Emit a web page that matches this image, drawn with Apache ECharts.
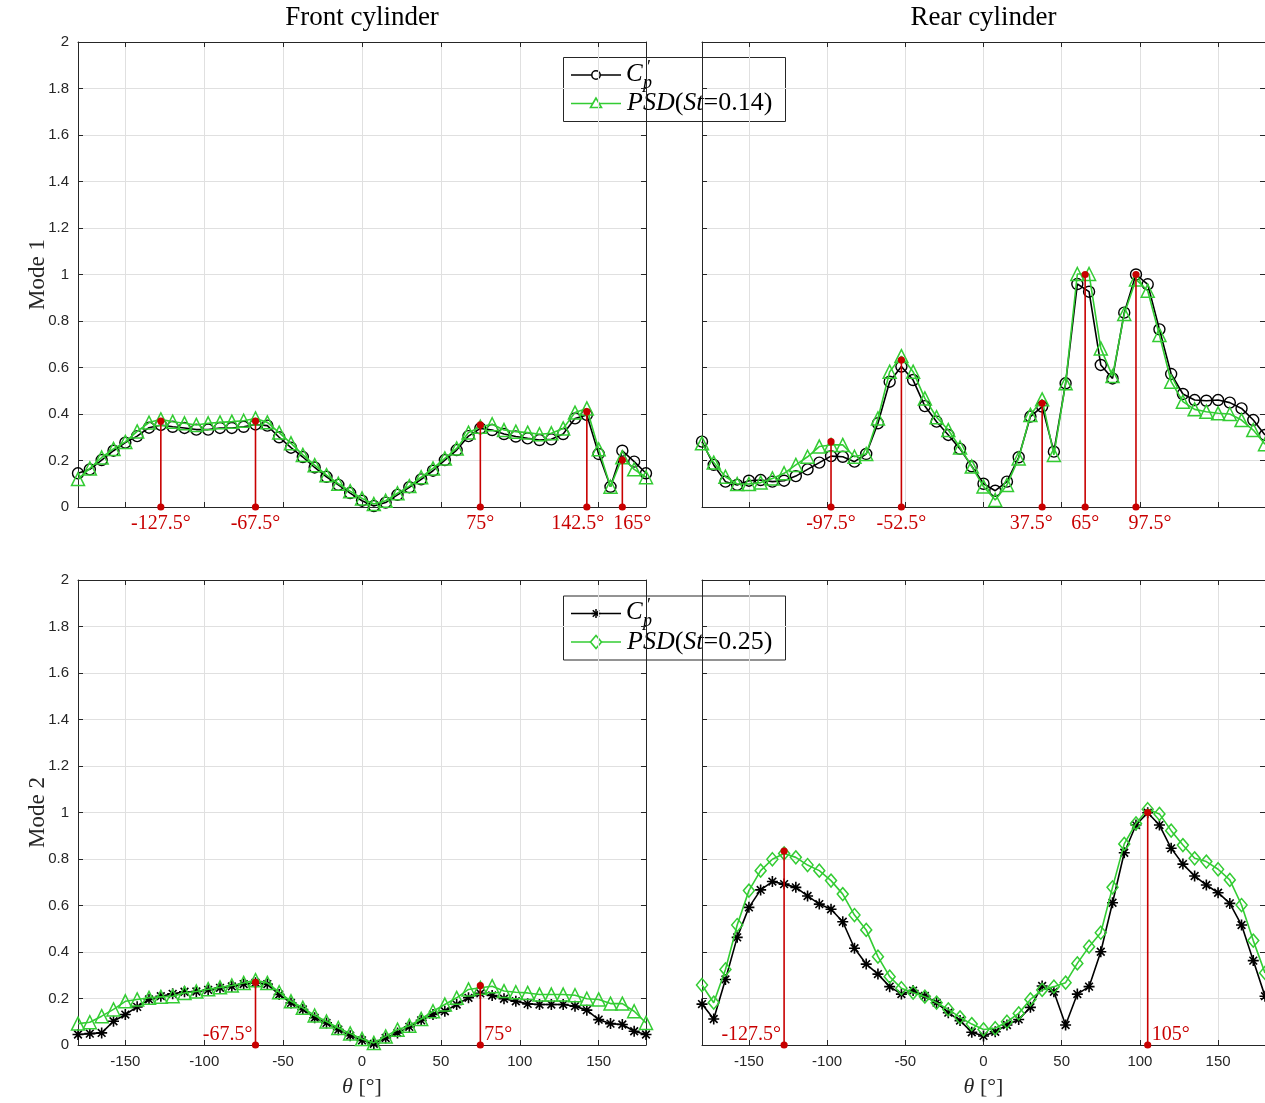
<!DOCTYPE html>
<html>
<head>
<meta charset="utf-8">
<script src="https://cdn.jsdelivr.net/npm/echarts@6/dist/echarts.min.js"></script>
<style>
  html, body { margin: 0; padding: 0; background: #ffffff; }
  #chart { width: 1265px; height: 1103px; }
</style>
</head>
<body>
<div id="chart"></div>
<script>
// Angular positions of the pressure taps (degrees)
const theta = [
  -180, -172.5, -165, -157.5, -150, -142.5, -135, -127.5, -120, -112.5, -105, -97.5,
  -90, -82.5, -75, -67.5, -60, -52.5, -45, -37.5, -30, -22.5, -15, -7.5,
  0,
  7.5, 15, 22.5, 30, 37.5, 45, 52.5, 60, 67.5, 75, 82.5, 90,
  97.5, 105, 112.5, 120, 127.5, 135, 142.5, 150, 157.5, 165, 172.5, 180
];

// Mode 1 — front cylinder
const frontMode1Cp = [
  0.145, 0.162, 0.202, 0.242, 0.277, 0.305, 0.341, 0.353, 0.345, 0.340, 0.333, 0.333,
  0.340, 0.340, 0.345, 0.355, 0.350, 0.300, 0.255, 0.215, 0.170, 0.130, 0.095, 0.060,
  0.027,
  0.004, 0.019, 0.052, 0.085, 0.119, 0.156, 0.202, 0.245, 0.305, 0.338, 0.331, 0.314,
  0.303, 0.295, 0.288, 0.291, 0.314, 0.381, 0.396, 0.228, 0.087, 0.242, 0.195, 0.145
];
const frontMode1Psd = [
  0.120, 0.166, 0.213, 0.250, 0.280, 0.325, 0.363, 0.377, 0.367, 0.360, 0.353, 0.360,
  0.364, 0.367, 0.371, 0.381, 0.364, 0.320, 0.274, 0.224, 0.180, 0.137, 0.100, 0.068,
  0.037,
  0.013, 0.027, 0.059, 0.090, 0.128, 0.166, 0.209, 0.252, 0.320, 0.345, 0.356, 0.331,
  0.324, 0.320, 0.313, 0.317, 0.338, 0.406, 0.424, 0.248, 0.087, 0.214, 0.162, 0.128
];
const frontMode1Peaks = [[-127.5, 0.37], [-67.5, 0.37], [75, 0.353], [142.5, 0.41], [165, 0.202]];

// Mode 1 — rear cylinder
const rearMode1Cp = [
  0.281, 0.181, 0.109, 0.095, 0.113, 0.116, 0.109, 0.113, 0.133, 0.162, 0.191, 0.219,
  0.216, 0.195, 0.228, 0.360, 0.539, 0.604, 0.546, 0.434, 0.367, 0.310, 0.250, 0.175,
  0.100,
  0.070, 0.109, 0.214, 0.389, 0.432, 0.238, 0.532, 0.959, 0.926, 0.611, 0.553, 0.836,
  1.000, 0.958, 0.764, 0.572, 0.486, 0.460, 0.457, 0.460, 0.449, 0.424, 0.374, 0.310
];
const rearMode1Psd = [
  0.274, 0.191, 0.130, 0.099, 0.099, 0.105, 0.123, 0.145, 0.181, 0.216, 0.260, 0.267,
  0.267, 0.216, 0.228, 0.381, 0.582, 0.649, 0.582, 0.467, 0.386, 0.331, 0.256, 0.174,
  0.088,
  0.030, 0.095, 0.209, 0.396, 0.463, 0.224, 0.532, 1.002, 1.002, 0.682, 0.563, 0.830,
  0.979, 0.930, 0.740, 0.539, 0.453, 0.420, 0.410, 0.403, 0.400, 0.374, 0.331, 0.270
];
const rearMode1Peaks = [[-97.5, 0.281], [-52.5, 0.632], [37.5, 0.446], [65, 1.0], [97.5, 1.0]];

// Mode 2 — front cylinder
const frontMode2Cp = [
  0.045, 0.049, 0.052, 0.102, 0.131, 0.164, 0.196, 0.210, 0.220, 0.229, 0.230, 0.237,
  0.246, 0.252, 0.262, 0.268, 0.262, 0.217, 0.181, 0.153, 0.117, 0.095, 0.066, 0.040,
  0.020,
  0.005, 0.030, 0.052, 0.078, 0.106, 0.131, 0.145, 0.174, 0.203, 0.222, 0.213, 0.199,
  0.188, 0.177, 0.174, 0.174, 0.174, 0.167, 0.150, 0.109, 0.092, 0.088, 0.059, 0.045
];
const frontMode2Psd = [
  0.092, 0.098, 0.124, 0.153, 0.188, 0.196, 0.203, 0.207, 0.210, 0.224, 0.230, 0.240,
  0.248, 0.256, 0.267, 0.279, 0.267, 0.227, 0.188, 0.160, 0.127, 0.101, 0.073, 0.050,
  0.026,
  0.009, 0.037, 0.066, 0.083, 0.112, 0.145, 0.174, 0.203, 0.239, 0.246, 0.253, 0.232,
  0.227, 0.224, 0.217, 0.217, 0.217, 0.214, 0.199, 0.196, 0.178, 0.178, 0.145, 0.095
];
const frontMode2Peaks = [[-67.5, 0.27], [75, 0.256]];

// Mode 2 — rear cylinder
const rearMode2Cp = [
  0.176, 0.112, 0.282, 0.463, 0.592, 0.667, 0.703, 0.692, 0.678, 0.641, 0.606, 0.584,
  0.530, 0.416, 0.348, 0.305, 0.251, 0.219, 0.234, 0.211, 0.182, 0.139, 0.105, 0.055,
  0.039,
  0.057, 0.086, 0.110, 0.162, 0.254, 0.229, 0.086, 0.219, 0.251, 0.401, 0.612, 0.827,
  0.946, 0.999, 0.946, 0.846, 0.778, 0.727, 0.688, 0.655, 0.609, 0.516, 0.363, 0.210
];
const rearMode2Psd = [
  0.258, 0.182, 0.325, 0.516, 0.664, 0.750, 0.799, 0.824, 0.807, 0.774, 0.750, 0.707,
  0.649, 0.559, 0.495, 0.380, 0.294, 0.244, 0.225, 0.208, 0.182, 0.153, 0.119, 0.090,
  0.067,
  0.072, 0.100, 0.136, 0.196, 0.237, 0.251, 0.268, 0.351, 0.423, 0.483, 0.678, 0.865,
  0.953, 1.014, 0.994, 0.922, 0.860, 0.803, 0.789, 0.756, 0.710, 0.602, 0.449, 0.310
];
const rearMode2Peaks = [[-127.5, 0.834], [105, 1.0]];

// Axis ticks and text
const xTicks = [-150, -100, -50, 0, 50, 100, 150];
const columnTitles = ['Front cylinder', 'Rear cylinder'];
const rowTitles = ['Mode 1', 'Mode 2'];
const psdLabels = ['0.14', '0.25'];

// ---------- styling ----------
const SERIF = 'Liberation Serif';
const SANS = 'Liberation Sans';
const AXIS_COLOR = '#262626';
const GRID_COLOR = '#e0e0e0';
const RED = '#c80000';
const GREEN = '#33cc33';
const STAR_PATH = 'path://M0,5L10,5M5,0L5,10M1.5,1.5L8.5,8.5M1.5,8.5L8.5,1.5';

const GRID_W = 568, GRID_H = 465;
const COL_LEFT = [78, 702];
const ROW_TOP = [42, 580];

// panel description: row, col, data and marker styles
const panels = [
  { row: 0, col: 0, cp: frontMode1Cp, psd: frontMode1Psd, peaks: frontMode1Peaks,
    cpSym: 'circle', psdSym: 'triangle', nudge: { 3: -9, 4: 10 } },
  { row: 0, col: 1, cp: rearMode1Cp, psd: rearMode1Psd, peaks: rearMode1Peaks,
    cpSym: 'circle', psdSym: 'triangle', nudge: { 2: -11, 4: 14 } },
  { row: 1, col: 0, cp: frontMode2Cp, psd: frontMode2Psd, peaks: frontMode2Peaks,
    cpSym: 'star', psdSym: 'triangle', nudge: {} },
  { row: 1, col: 1, cp: rearMode2Cp, psd: rearMode2Psd, peaks: rearMode2Peaks,
    cpSym: 'star', psdSym: 'diamond', nudge: {} }
];

function zip(xs, ys) { return xs.map((x, i) => [x, ys[i]]); }

const grids = [], xAxes = [], yAxes = [], series = [];
const tickLine = { color: AXIS_COLOR, width: 1 };

panels.forEach((p, i) => {
  grids.push({ left: COL_LEFT[p.col], top: ROW_TOP[p.row], width: GRID_W, height: GRID_H, show: false });
  const bottomRow = p.row === 1, leftCol = p.col === 0;

  // bottom x axis
  xAxes.push({
    type: 'value', gridIndex: i, min: -180, max: 180, position: 'bottom',
    axisLine: { show: true, onZero: false, lineStyle: tickLine },
    axisTick: { show: true, inside: true, length: 5, customValues: xTicks, lineStyle: tickLine },
    axisLabel: { show: bottomRow, customValues: xTicks, margin: 9, fontFamily: SANS, fontSize: 15, color: AXIS_COLOR },
    splitLine: { show: true, lineStyle: { color: GRID_COLOR, width: 1 } },
    name: bottomRow ? '{i|θ} [°]' : '', nameLocation: 'middle', nameGap: 31,
    nameTextStyle: { fontFamily: SERIF, fontSize: 22, color: AXIS_COLOR,
      rich: { i: { fontFamily: SERIF, fontSize: 22, fontStyle: 'italic', color: AXIS_COLOR } } }
  });
  // top x axis (box edge with ticks)
  xAxes.push({
    type: 'value', gridIndex: i, min: -180, max: 180, position: 'top',
    axisLine: { show: true, onZero: false, lineStyle: tickLine },
    axisTick: { show: true, inside: true, length: 5, customValues: xTicks, lineStyle: tickLine },
    axisLabel: { show: false }, splitLine: { show: false },
    name: p.row === 0 ? columnTitles[p.col] : '', nameLocation: 'middle', nameGap: 11,
    nameTextStyle: { fontFamily: SERIF, fontSize: 27, color: '#000' }
  });
  // left y axis
  yAxes.push({
    type: 'value', gridIndex: i, min: 0, max: 2, interval: 0.2, position: 'left',
    axisLine: { show: true, onZero: false, lineStyle: tickLine },
    axisTick: { show: true, inside: true, length: 5, lineStyle: tickLine },
    axisLabel: { show: leftCol, margin: 9, fontFamily: SANS, fontSize: 15, color: AXIS_COLOR,
      formatter: v => String(Math.round(v * 10) / 10) },
    splitLine: { show: true, lineStyle: { color: GRID_COLOR, width: 1 } },
    name: leftCol ? rowTitles[p.row] : '', nameLocation: 'middle', nameGap: 29, nameRotate: 90,
    nameMoveOverlap: false,
    nameTextStyle: { fontFamily: SERIF, fontSize: 23, color: AXIS_COLOR }
  });
  // right y axis (box edge with ticks)
  yAxes.push({
    type: 'value', gridIndex: i, min: 0, max: 2, interval: 0.2, position: 'right',
    axisLine: { show: true, onZero: false, lineStyle: tickLine },
    axisTick: { show: true, inside: true, length: 5, lineStyle: tickLine },
    axisLabel: { show: false }, splitLine: { show: false }
  });

  const xi = 2 * i, yi = 2 * i;
  const cpIsStar = p.cpSym === 'star';
  series.push({
    type: 'line', xAxisIndex: xi, yAxisIndex: yi, data: zip(theta, p.cp),
    symbol: cpIsStar ? STAR_PATH : 'circle', symbolSize: 11,
    showSymbol: true, showAllSymbol: true, clip: false, z: 2, silent: true,
    lineStyle: { color: '#000', width: 1.6 },
    itemStyle: { color: 'rgba(0,0,0,0)', borderColor: '#000', borderWidth: cpIsStar ? 1.6 : 1.4 }
  });
  series.push({
    type: 'line', xAxisIndex: xi, yAxisIndex: yi, data: zip(theta, p.psd),
    symbol: p.psdSym, symbolSize: p.psdSym === 'diamond' ? [11, 13] : 13,
    showSymbol: true, showAllSymbol: true, clip: false, z: 3, silent: true,
    lineStyle: { color: GREEN, width: 1.6 },
    itemStyle: { color: 'rgba(0,0,0,0)', borderColor: GREEN, borderWidth: 1.5 }
  });

  // red stems marking the dominant tap locations
  const belowLabels = p.row === 0;
  series.push({
    type: 'custom', xAxisIndex: xi, yAxisIndex: yi, data: p.peaks, clip: false, z: 6, silent: true,
    encode: { x: 0, y: 1 },
    renderItem: function (params, api) {
      const x = api.value(0), v = api.value(1);
      const p0 = api.coord([x, 0]), p1 = api.coord([x, v]);
      const idx = params.dataIndex;
      const txt = String(x) + '°';
      let tx, ty, align;
      if (belowLabels) {
        tx = p0[0] + (p.nudge[idx] || 0); ty = p0[1] + 17; align = 'center';
      } else if (idx === 0) {
        tx = p0[0] - 3; ty = p0[1] - 10; align = 'right';
      } else {
        tx = p0[0] + 4; ty = p0[1] - 10; align = 'left';
      }
      return {
        type: 'group',
        children: [
          { type: 'line', shape: { x1: p0[0], y1: p0[1], x2: p1[0], y2: p1[1] },
            style: { stroke: RED, lineWidth: 1.6 } },
          { type: 'circle', shape: { cx: p0[0], cy: p0[1], r: 3.6 }, style: { fill: RED } },
          { type: 'circle', shape: { cx: p1[0], cy: p1[1], r: 3.6 }, style: { fill: RED } },
          { type: 'text', style: { x: tx, y: ty, text: txt, fill: RED, fontFamily: SERIF, fontSize: 20,
              textAlign: align, align: align, textVerticalAlign: 'middle', verticalAlign: 'middle' } }
        ]
      };
    }
  });
});

// ---------- legends ----------
function legendGroup(top, psdLabel, cpMarker, psdMarker) {
  const L = 563.5, W = 222, H = 64;
  const y1 = top + 17.5, y2 = top + 46;
  const mx = 596;
  const kids = [
    { type: 'rect', shape: { x: L, y: top, width: W, height: H },
      style: { fill: '#fff', stroke: AXIS_COLOR, lineWidth: 1 } },
    { type: 'line', shape: { x1: 571, y1: y1, x2: 621, y2: y1 }, style: { stroke: '#000', lineWidth: 1.6 } },
    { type: 'line', shape: { x1: 571, y1: y2, x2: 621, y2: y2 }, style: { stroke: GREEN, lineWidth: 1.6 } }
  ];
  if (cpMarker === 'circle') {
    kids.push({ type: 'circle', shape: { cx: mx, cy: y1, r: 4.2 }, style: { fill: '#fff', stroke: '#000', lineWidth: 1.5 } });
  } else {
    const s = 4.5, d = 3.2;
    kids.push({ type: 'polyline', shape: { points: [[mx - s, y1], [mx + s, y1]] }, style: { stroke: '#000', lineWidth: 1.5 } });
    kids.push({ type: 'polyline', shape: { points: [[mx, y1 - s], [mx, y1 + s]] }, style: { stroke: '#000', lineWidth: 1.5 } });
    kids.push({ type: 'polyline', shape: { points: [[mx - d, y1 - d], [mx + d, y1 + d]] }, style: { stroke: '#000', lineWidth: 1.5 } });
    kids.push({ type: 'polyline', shape: { points: [[mx - d, y1 + d], [mx + d, y1 - d]] }, style: { stroke: '#000', lineWidth: 1.5 } });
  }
  if (psdMarker === 'triangle') {
    kids.push({ type: 'polygon', shape: { points: [[mx, y2 - 5.5], [mx - 5.5, y2 + 4], [mx + 5.5, y2 + 4]] },
      style: { fill: '#fff', stroke: GREEN, lineWidth: 1.6 } });
  } else {
    kids.push({ type: 'polygon', shape: { points: [[mx, y2 - 6.5], [mx - 5.5, y2], [mx, y2 + 6.5], [mx + 5.5, y2]] },
      style: { fill: '#fff', stroke: GREEN, lineWidth: 1.6 } });
  }
  // C'_p
  kids.push({ type: 'text', style: { x: 626, y: y1 - 1, text: 'C', fill: '#000', fontFamily: SERIF, fontSize: 25,
    fontStyle: 'italic', textVerticalAlign: 'middle', verticalAlign: 'middle' } });
  kids.push({ type: 'text', style: { x: 647, y: y1 - 7, text: '′', fill: '#000', fontFamily: SERIF, fontSize: 18,
    textVerticalAlign: 'middle', verticalAlign: 'middle' } });
  kids.push({ type: 'text', style: { x: 643, y: y1 + 8, text: 'p', fill: '#000', fontFamily: SERIF, fontSize: 18,
    fontStyle: 'italic', textVerticalAlign: 'middle', verticalAlign: 'middle' } });
  // PSD(St=...)
  kids.push({ type: 'text', style: {
    x: 627, y: y2, text: '{i|PSD}({i|St}=' + psdLabel + ')', fill: '#000', fontFamily: SERIF, fontSize: 26,
    textVerticalAlign: 'middle', verticalAlign: 'middle',
    rich: { i: { fontFamily: SERIF, fontSize: 26, fontStyle: 'italic', fill: '#000', color: '#000' } } } });
  return { type: 'group', z: 100, children: kids };
}

const chart = echarts.init(document.getElementById('chart'), null, { renderer: 'canvas' });
chart.setOption({
  animation: false,
  backgroundColor: '#ffffff',
  grid: grids,
  xAxis: xAxes,
  yAxis: yAxes,
  series: series,
  graphic: [
    legendGroup(57.5, psdLabels[0], 'circle', 'triangle'),
    legendGroup(596, psdLabels[1], 'star', 'diamond')
  ]
});
</script>
</body>
</html>
